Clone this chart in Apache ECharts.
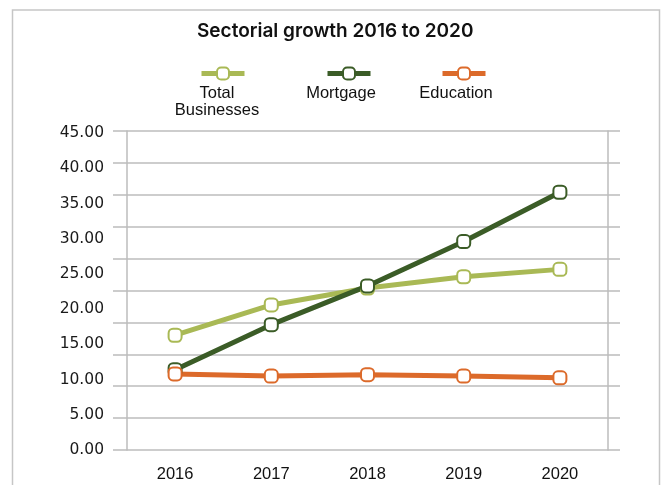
<!DOCTYPE html>
<html>
<head>
<meta charset="utf-8">
<script src="https://cdn.jsdelivr.net/npm/echarts@6/dist/echarts.min.js"></script>
<style>
  html, body { margin: 0; padding: 0; background: #fff; }
  #chart { width: 661px; height: 485px; }
</style>
</head>
<body>
<div id="chart"></div>
<script>
// Sectorial growth, 2016 to 2020
const years = ['2016', '2017', '2018', '2019', '2020'];
const totalBusinesses = [16.3, 20.6, 23.0, 24.6, 25.65];
const mortgage = [11.4, 17.8, 23.3, 29.6, 36.6];
const education = [10.8, 10.5, 10.7, 10.5, 10.25];
const seriesNames = ['Total Businesses', 'Mortgage', 'Education'];
const legendLines = [['Total', 'Businesses'], ['Mortgage'], ['Education']];
const colors = ['#a9b955', '#3b5c27', '#dc6a2a'];

// rounded-square marker
const marker = 'path://M3.4,0 H6.6 A3.4,3.4 0 0 1 10,3.4 V6.6 A3.4,3.4 0 0 1 6.6,10 H3.4 A3.4,3.4 0 0 1 0,6.6 V3.4 A3.4,3.4 0 0 1 3.4,0 Z';
const gridColor = '#bcbcbc';
const textFont = '"Liberation Sans", Arial, sans-serif';

const chart = echarts.init(document.getElementById('chart'), null, { renderer: 'canvas' });

const dataSets = [totalBusinesses, mortgage, education];
const series = dataSets.map((values, i) => ({
  name: seriesNames[i],
  type: 'line',
  data: values,
  yAxisIndex: 0,
  symbol: marker,
  symbolSize: 13,
  symbolKeepAspect: true,
  lineStyle: { color: colors[i], width: 5 },
  itemStyle: { color: '#fff', borderColor: colors[i], borderWidth: 2 },
  emphasis: { disabled: true },
  animation: false
}));

// one legend per series: icon row above a centred caption
const legendLeft = [199, 325, 440];
const legends = seriesNames.map((name, i) => ({
  data: [name],
  left: legendLeft[i],
  top: 66,
  padding: 0,
  itemWidth: 43,
  itemHeight: 15,
  selectedMode: false,
  formatter: () => '',
  lineStyle: { width: 5 },
  itemStyle: { borderWidth: 2 }
}));

const captionX = [217, 341, 456];
const captions = legendLines.map((lines, i) => ({
  type: 'text',
  x: captionX[i],
  y: 85,
  style: {
    text: lines.join('\n'),
    font: '16.5px ' + textFont,
    fill: '#111',
    textAlign: 'center',
    textVerticalAlign: 'top',
    lineHeight: 17
  }
}));

chart.setOption({
  animation: false,
  title: {
    text: 'Sectorial growth 2016 to 2020',
    left: 197,
    top: 22,
    padding: 0,
    textStyle: { fontFamily: 'Inter, sans-serif', fontWeight: 600, fontSize: 19, color: '#111' }
  },
  legend: legends,
  grid: { left: 127, right: 53, top: 131, bottom: 35 },
  xAxis: {
    type: 'category',
    data: years,
    boundaryGap: true,
    axisLine: { show: false },
    axisTick: { show: false },
    axisLabel: { margin: 16, fontFamily: textFont, fontSize: 16.5, color: '#111' }
  },
  yAxis: [
    {
      type: 'value', position: 'left', min: 0, max: 45.3, interval: 5,
      axisLine: { show: false }, axisTick: { show: false }, splitLine: { show: false },
      axisLabel: {
        margin: 23, fontFamily: '"DejaVu Sans", sans-serif', fontSize: 15.5, color: '#1a1a1a',
        formatter: v => (Math.abs(v % 5) < 1e-9 ? v.toFixed(2) : '')
      }
    },
    {
      type: 'value', position: 'left', min: 0, max: 50, interval: 5,
      axisLine: { show: true, lineStyle: { color: gridColor, width: 1.5 } },
      axisTick: { show: true, inside: false, length: 14, lineStyle: { color: gridColor, width: 1.5 } },
      axisLabel: { show: false },
      splitLine: { show: true, lineStyle: { color: gridColor, width: 1.5 } }
    },
    {
      type: 'value', position: 'right', min: 0, max: 50, interval: 5,
      axisLine: { show: true, lineStyle: { color: gridColor, width: 1.5 } },
      axisTick: { show: true, inside: false, length: 12, lineStyle: { color: gridColor, width: 1.5 } },
      axisLabel: { show: false },
      splitLine: { show: false }
    }
  ],
  graphic: [
    {
      type: 'rect',
      shape: { x: 12.5, y: 10, width: 647, height: 520 },
      style: { fill: 'none', stroke: '#c6c6c6', lineWidth: 1.5 },
      silent: true
    }
  ].concat(captions),
  series: series
});
</script>
</body>
</html>
